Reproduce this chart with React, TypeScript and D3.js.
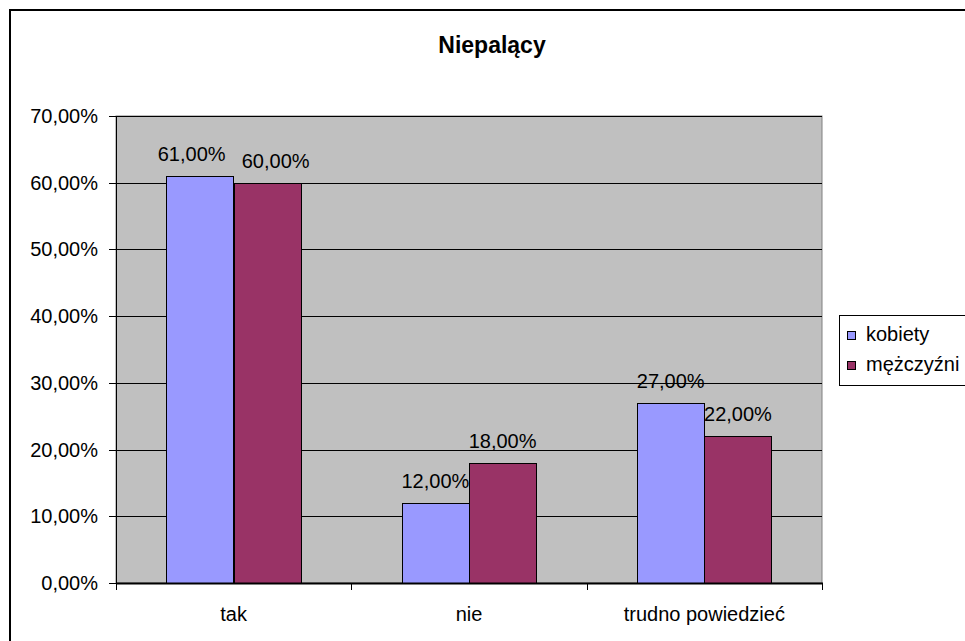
import React from "react";
import * as d3 from "d3";

const categories = ["tak", "nie", "trudno powiedzieć"];
const seriesNames = ["kobiety", "mężczyźni"];
const kobiety = [0.61, 0.12, 0.27];
const mezczyzni = [0.6, 0.18, 0.22];
const yTicks = [0, 0.1, 0.2, 0.3, 0.4, 0.5, 0.6, 0.7];
const colors = ["#9999FF", "#993366"];

const W = 965;
const H = 641;
const plot = { left: 116, top: 116, right: 822, bottom: 583 };
const FONT = "Liberation Sans, Arial, sans-serif";
const LABEL_W = 68;
const LABEL_GAP = 16;

const fmt = (v: number) => (v * 100).toFixed(2).replace(".", ",") + "%";

export default function App() {
  const x = d3
    .scaleBand<string>()
    .domain(categories)
    .range([plot.left, plot.right])
    .paddingInner(0)
    .paddingOuter(0);
  const y = d3.scaleLinear().domain([0, 0.7]).range([plot.bottom, plot.top]);
  const bw = x.bandwidth();
  const barW = bw / 3.5;
  const inner = d3
    .scaleBand<string>()
    .domain(seriesNames)
    .range([(bw - 2 * barW) / 2, (bw + 2 * barW) / 2]);
  const series = [kobiety, mezczyzni];
  const boundaries = [...categories.map((c) => x(c) as number), plot.right];

  // label offsets to avoid overlap of neighbouring labels at similar heights
  const labelShift = (ci: number, si: number) => {
    const a = y(series[0][ci]);
    const b = y(series[1][ci]);
    if (Math.abs(a - b) >= 20) return 0;
    const need = LABEL_W + LABEL_GAP - barW;
    if (need <= 0) return 0;
    return si === 0 ? -need / 2 : need / 2;
  };

  return (
    <div style={{ position: "absolute", left: 0, top: 0 }}>
      <svg width={W} height={H} style={{ display: "block", fontFamily: FONT }}>
        <rect x={0} y={0} width={W} height={H} fill="#fff" />
        <rect x={10} y={10} width={W + 20} height={H + 20} fill="none" stroke="#000" strokeWidth={2} />
        <text x={492} y={53} textAnchor="middle" fontWeight="bold" fontSize={23} fill="#000">
          Niepalący
        </text>
        <rect
          x={plot.left}
          y={plot.top}
          width={plot.right - plot.left}
          height={plot.bottom - plot.top}
          fill="#C0C0C0"
          stroke="#808080"
          strokeWidth={1}
        />
        {yTicks.slice(1).map((t) => (
          <line key={t} x1={plot.left} x2={plot.right} y1={Math.round(y(t)) + 0.5} y2={Math.round(y(t)) + 0.5} stroke="#000" />
        ))}
        {categories.map((c, ci) =>
          series.map((s, si) => {
            const bx = (x(c) as number) + (inner(seriesNames[si]) as number);
            const by = y(s[ci]);
            return (
              <g key={c + si}>
                <rect
                  x={Math.round(bx) + 0.5}
                  y={Math.round(by) + 0.5}
                  width={Math.round(barW)}
                  height={Math.round(plot.bottom - by)}
                  fill={colors[si]}
                  stroke="#000"
                />
                <text
                  x={bx + barW / 2 + labelShift(ci, si)}
                  y={by - 15}
                  textAnchor="middle"
                  fontSize={20}
                  fill="#000"
                >
                  {fmt(s[ci])}
                </text>
              </g>
            );
          })
        )}
        <line x1={plot.left + 0.5} x2={plot.left + 0.5} y1={plot.top} y2={plot.bottom} stroke="#000" />
        <line x1={plot.left} x2={plot.right + 1} y1={plot.bottom + 0.5} y2={plot.bottom + 0.5} stroke="#000" strokeWidth={2} />
        {yTicks.map((t) => (
          <g key={"yt" + t}>
            <line x1={plot.left - 7} x2={plot.left} y1={Math.round(y(t)) + 0.5} y2={Math.round(y(t)) + 0.5} stroke="#000" />
            <text x={98} y={y(t) + 7} textAnchor="end" fontSize={20} fill="#000">
              {fmt(t)}
            </text>
          </g>
        ))}
        {boundaries.map((b, i) => (
          <line key={"xt" + i} x1={Math.round(b) + 0.5} x2={Math.round(b) + 0.5} y1={plot.bottom} y2={plot.bottom + 7} stroke="#000" />
        ))}
        {categories.map((c) => (
          <text key={"xl" + c} x={(x(c) as number) + bw / 2} y={621} textAnchor="middle" fontSize={20} fill="#000">
            {c}
          </text>
        ))}
        <rect x={839.5} y={315.5} width={200} height={70} fill="#fff" stroke="#000" />
        {seriesNames.map((n, i) => (
          <g key={"lg" + n}>
            <rect x={847.5} y={331.5 + i * 30} width={8} height={8} fill={colors[i]} stroke="#000" />
            <text x={866} y={341 + i * 30} fontSize={20} fill="#000">
              {n}
            </text>
          </g>
        ))}
      </svg>
    </div>
  );
}
